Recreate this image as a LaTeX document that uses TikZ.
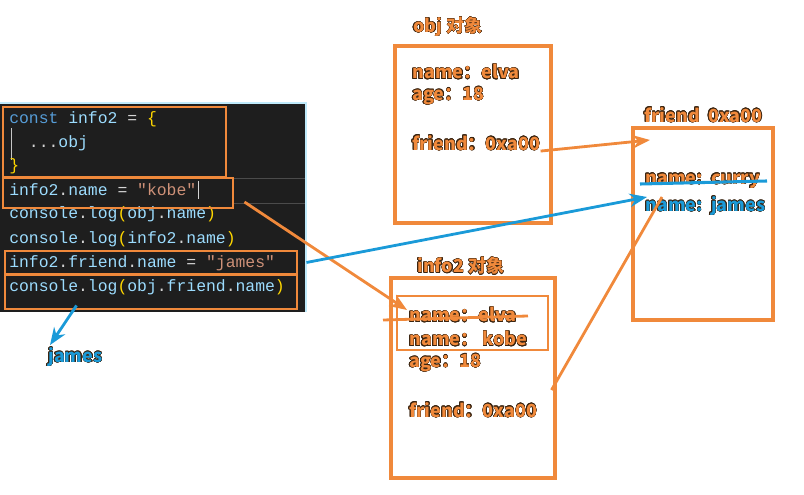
\documentclass[tikz,border=0pt]{standalone}
\usepackage{fontspec}
\usepackage{xcolor}
\usepackage{contour}
\usetikzlibrary{calc}
\usetikzlibrary{fit}
\usetikzlibrary{arrows.meta}
\newfontfamily\cjk{Noto Sans CJK SC}
\setmonofont{Liberation Mono}
\definecolor{codebg}{HTML}{1E1E1E}
\definecolor{hl}{HTML}{F0893B}
\definecolor{jsblue}{HTML}{1A9AD8}
\definecolor{edge}{HTML}{3A2410}
\definecolor{ckw}{HTML}{569CD6}
\definecolor{cvar}{HTML}{9CDCFE}
\definecolor{cop}{HTML}{D4D4D4}
\definecolor{cbr}{HTML}{FFD700}
\definecolor{cstr}{HTML}{CE9178}
\contourlength{0.3pt}
\contournumber{16}
\newcommand{\olbl}[1]{\textcolor{hl}{\contour{edge}{#1}}}
\newcommand{\blbl}[1]{\textcolor{jsblue}{\contour{edge}{#1}}}

\begin{document}
\begin{tikzpicture}[x=0.75pt,y=-0.75pt,
  code/.style={font=\ttfamily\fontsize{12.3}{14}\selectfont, inner sep=0, anchor=west, text=cvar},
  lbl/.style={font=\cjk\bfseries\fontsize{13.5}{15}\selectfont, inner sep=0, anchor=west},
  hlbox/.style={draw=hl, line width=2.2pt, inner sep=0},
  objbox/.style={draw=hl, line width=2.3pt, inner sep=0},
  harrow/.style={draw=hl, line width=2.1pt, -{Stealth[length=13pt,width=10pt]}},
  barrow/.style={draw=jsblue, line width=2.1pt, -{Stealth[length=13pt,width=10pt]}}]
\useasboundingbox (0,0) rectangle (804,495);

% code panel
\fill[codebg] (0,103) rectangle (306,312);
\draw[cyan!25, line width=1pt] (0,103) -- (306,103) -- (306,312);
\draw[gray!45, line width=0.5pt] (11,128) -- (11,160);
\draw[white!20!codebg, line width=0.6pt] (233,178) -- (305,178);
\draw[white!20!codebg, line width=0.6pt] (233,203) -- (305,203);
\node[code] (l1) at (9,119) {\textcolor{ckw}{const} info2 \textcolor{cop}{=} \textcolor{cbr}{\{}};
\node[code] (l2) at (9,143) {\ \ \textcolor{cop}{...}obj};
\node[code] (l3) at (9,166) {\textcolor{cbr}{\}}};
\node[code] (l4) at (9,190) {info2\textcolor{cop}{.}name \textcolor{cop}{=} \textcolor{cstr}{"kobe"}};
\draw[cop, line width=0.6pt] (198,181) -- (198,199);
\node[code] (l5) at (9,214) {console\textcolor{cop}{.}log\textcolor{cbr}{(}obj\textcolor{cop}{.}name\textcolor{cbr}{)}};
\node[code] (l6) at (9,239) {console\textcolor{cop}{.}log\textcolor{cbr}{(}info2\textcolor{cop}{.}name\textcolor{cbr}{)}};
\node[code] (l7) at (9,263) {info2\textcolor{cop}{.}friend\textcolor{cop}{.}name \textcolor{cop}{=} \textcolor{cstr}{"james"}};
\node[code] (l8) at (9,287) {console\textcolor{cop}{.}log\textcolor{cbr}{(}obj\textcolor{cop}{.}friend\textcolor{cop}{.}name\textcolor{cbr}{)}};

% highlight boxes
\node[hlbox, fit={(3,107) (226,177)}] (boxA) {};
\node[hlbox, fit={(3,178) (233,208)}] (boxB) {};
\node[hlbox, fit={(5,251) (297,274)}] (boxC) {};
\node[hlbox, fit={(5,275) (297,309)}] (boxD) {};

% obj
\node[lbl] (tobj) at (413,27) {\olbl{obj 对象}};
\node[objbox, fit={(395,46) (551,223)}] (obj) {};
\node[lbl] (on1) at (412,72) {\olbl{name：elva}};
\node[lbl] (on2) at (412,96) {\olbl{age：18}};
\node[lbl] (fr1) at (412,143) {\olbl{friend：0xa00}};

% friend
\node[lbl] (tfr) at (644,115) {\olbl{friend\ \ 0xa00}};
\node[objbox, fit={(633,128) (773,320)}] (friend) {};
\node[lbl] (curry) at (645,181) {\olbl{name:\ \ curry}};
\node[lbl] (fjames) at (645,206) {\blbl{name:\ \ james}};
\draw[jsblue, line width=2.3pt] (640,184) -- (767,181);

% info2
\node[lbl] (tinfo) at (417,266) {\olbl{info2 对象}};
\node[objbox, fit={(391,278) (555,478)}] (info2) {};
\node[hlbox, fit={(397,296) (548,350)}] (inner) {};
\node[lbl] (in1) at (409,315) {\olbl{name：elva}};
\node[lbl] (in2) at (409,339) {\olbl{name：\ kobe}};
\node[lbl] (in3) at (409,363) {\olbl{age：18}};
\node[lbl] (fr2) at (409,410) {\olbl{friend：0xa00}};
\draw[hl, line width=2.1pt] (383,320) -- (528,316);

% result
\node[lbl] (james) at (48,357) {\blbl{james}};

% arrows
\coordinate (fhd) at (650,140);
\coordinate (elhd) at (407,310);
\coordinate (jmhd) at (647,197);
\coordinate (lnk) at (662,197);
\draw[harrow] (fr1.south east) -- (fhd);
\draw[harrow] ($(boxB.east)+(10,9)$) -- (elhd);
\draw[barrow] ($(boxC.east)+(8,0)$) -- (jmhd);
\draw[hl, line width=2.1pt] ($(info2.east)+(-5,12)$) -- (lnk);
\draw[barrow] ($(boxD.south west)+(73,-5)$) -- ($(james.north west)+(2,-2)$);
\end{tikzpicture}
\end{document}
